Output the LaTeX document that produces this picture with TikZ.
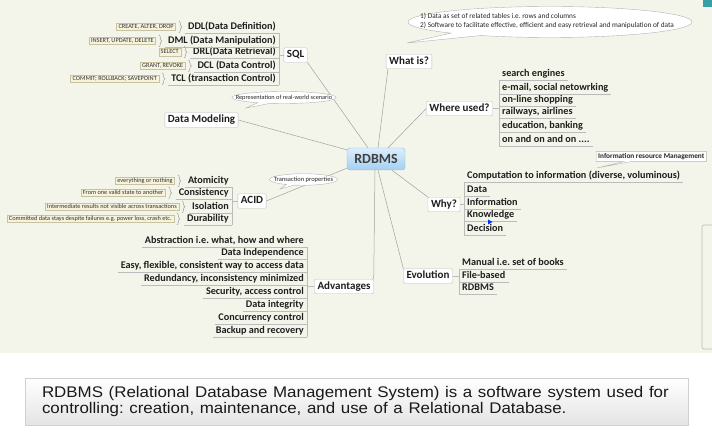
\documentclass[tikz,border=0pt]{standalone}
\usepackage{fontspec}
\usepackage{graphicx}
\setmainfont{Carlito}
\newfontfamily\capfont{Liberation Sans}
\usetikzlibrary{shapes.callouts,shapes.geometric,decorations.pathreplacing,calc}
\frenchspacing
\definecolor{mapbg}{HTML}{F4F5EA}
\definecolor{notefill}{HTML}{F6F2DC}
\definecolor{notedraw}{HTML}{C9C2A0}
\definecolor{linegray}{HTML}{A0A0A0}
\definecolor{ulgray}{HTML}{BBBBBB}
\definecolor{boxdraw}{HTML}{BDBDBD}
\definecolor{rdtop}{HTML}{DCEEFC}
\definecolor{rdbot}{HTML}{A4CFF2}
\definecolor{rddraw}{HTML}{8DB9DF}
\definecolor{txt}{HTML}{1E1E1E}
\definecolor{tealbar}{HTML}{3A9EA6}
\definecolor{capdraw}{HTML}{D0D0D0}
\definecolor{capbot}{HTML}{E4E4E4}
\newcommand\fTopic{\fontsize{11}{13}\selectfont\bfseries}
\newcommand\fItem{\fontsize{10.2}{12}\selectfont\bfseries}
\newcommand\fNote{\fontsize{6.3}{7}\selectfont}
\newcommand\fCall{\fontsize{7.3}{9}\selectfont}
\newcommand\capline[1]{\scalebox{1.098}[1]{#1}}
\tikzset{
  conn/.style={draw=linegray, line width=0.5pt},
  ul/.style={draw=ulgray, line width=0.7pt},
  topic/.style={draw=boxdraw, fill=white, rounded corners=1pt, inner xsep=3pt, inner ysep=2pt,
    text height=8pt, text depth=2.5pt, font=\fTopic, text=txt},
  itemL/.style={inner xsep=3pt, inner ysep=1.5pt, anchor=south east, font=\fItem,
    text height=7pt, text depth=2pt, text=txt},
  itemR/.style={itemL, anchor=south west},
  note/.style={fill=notefill, draw=notedraw, inner xsep=2pt, inner ysep=1pt, font=\fNote,
    anchor=east, text height=4.5pt, text depth=1.2pt, text=black!80},
  brc/.style={draw=gray!75, line width=0.5pt, decorate, decoration={brace, amplitude=3pt}},
  callbox/.style={draw=gray!60, fill=white, inner sep=0pt},
  calltext/.style={inner sep=0pt, text=black!85},
  capbox/.style={rectangle, draw=capdraw, top color=white, bottom color=capbot,
    minimum width=663pt, minimum height=47pt, text width=629pt, align=left, inner xsep=17pt,
    font=\capfont\fontsize{15.4}{15.5}\selectfont, text=black!90}
}
\begin{document}
\begin{tikzpicture}[x=1pt,y=-1pt]
\useasboundingbox (0,0) rectangle (712,435);
\fill[white] (0,0) rectangle (712,435);
\fill[mapbg] (0,0) rectangle (712,353);
\fill[tealbar] (703,0) rectangle (712,7);

% central topic
\node[draw=rddraw, top color=rdtop, bottom color=rdbot, rounded corners=3pt,
  minimum width=58pt, minimum height=22pt, inner sep=0pt,
  font=\fontsize{14}{16}\selectfont\bfseries, text=black!75] (rdbms) at (376,159) {RDBMS};

% main topics
\node[topic] (sql) at (295.5,55) {SQL};
\node[topic] (dm) at (201.5,120) {Data Modeling};
\node[topic] (whatis) at (409,61.5) {What is?};
\node[topic] (where) at (459.5,108.5) {Where used?};
\node[topic] (acid) at (252,201) {ACID};
\node[topic] (adv) at (344,286.5) {Advantages};
\node[topic] (why) at (444,204.5) {Why?};
\node[topic] (evo) at (428,276) {Evolution};

% connectors to the centre
\draw[conn] (sql.south east) -- ([xshift=-8pt]rdbms.north);
\draw[conn] (dm.east) -- ([yshift=-2pt]rdbms.north west);
\draw[conn] ([xshift=2pt]whatis.south west) -- ([xshift=2pt]rdbms.north);
\draw[conn] (where.west) -- ([xshift=12pt]rdbms.north);
\draw[conn] (acid.east) -- ([yshift=2pt]rdbms.south west);
\draw[conn] ([xshift=16pt]rdbms.south) -- (why.north west);
\draw[conn] ([xshift=2pt]rdbms.south) -- (evo.north west);
\draw[conn] ([xshift=-1pt]rdbms.south) -- (adv.north east);

% SQL branch
\node[itemL] (ddl) at (279,33) {DDL(Data Definition)};
\node[itemL] (dml) at (279,47) {DML (Data Manipulation)};
\node[itemL] (drl) at (279,58.5) {DRL(Data Retrieval)};
\node[itemL] (dcl) at (279,72) {DCL (Data Control)};
\node[itemL] (tcl) at (279,85) {TCL (transaction Control)};
\foreach \n in {ddl,dml,drl,dcl,tcl} \draw[ul] (\n.south west) -- (\n.south east);
\draw[ul] (ddl.south east) -- (tcl.south east);
\draw[ul] (sql.west) -- (sql.west -| ddl.south east);
\node[note] (nddl) at ([xshift=-9pt]ddl.west) {CREATE, ALTER, DROP};
\node[note] (ndml) at ([xshift=-9pt]dml.west) {INSERT, UPDATE, DELETE};
\node[note] (ndrl) at ([xshift=-9pt]drl.west) {SELECT};
\node[note] (ndcl) at ([xshift=-9pt]dcl.west) {GRANT, REVOKE};
\node[note] (ntcl) at ([xshift=-9pt]tcl.west) {COMMIT; ROLLBACK; SAVEPOINT};
\foreach \n in {nddl,ndml,ndrl,ndcl,ntcl}
  \draw[brc] ([xshift=3pt,yshift=6pt]\n.east) -- ([xshift=3pt,yshift=-6pt]\n.east);

% Data modeling callout
\coordinate (prep) at (246,108);
\node[callbox, ellipse callout, callout absolute pointer=(prep),
  minimum width=104pt, minimum height=12pt] (repc) at (284,97.5) {};
\node[calltext, font=\fontsize{6.3}{7}\selectfont] (rept) at (repc.center) {Representation of real-world scenario};

% ACID branch
\node[itemL] (atom) at (232,187) {Atomicity};
\node[itemL] (cons) at (232,199) {Consistency};
\node[itemL] (iso) at (232,213) {Isolation};
\node[itemL] (dur) at (232,225) {Durability};
\foreach \n in {atom,cons,iso,dur} \draw[ul] (\n.south west) -- (\n.south east);
\draw[ul] (atom.south east) -- (dur.south east);
\draw[ul] (acid.west) -- (acid.west -| atom.south east);
\node[note] (natom) at ([xshift=-10pt]atom.west) {everything or nothing};
\node[note] (ncons) at ([xshift=-10pt]cons.west) {From one valid state to another};
\node[note] (niso) at ([xshift=-10pt]iso.west) {Intermediate results not visible across transactions};
\node[note] (ndur) at ([xshift=-10pt]dur.west) {Committed data stays despite failures e.g. power loss, crash etc.};
\foreach \n in {natom,ncons,niso,ndur}
  \draw[brc] ([xshift=3pt,yshift=6pt]\n.east) -- ([xshift=3pt,yshift=-6pt]\n.east);

\coordinate (ptr) at (280,189);
\node[callbox, ellipse callout, callout absolute pointer=(ptr),
  minimum width=68pt, minimum height=11.5pt] (trc) at (303.5,179.5) {};
\node[calltext, font=\fontsize{6.5}{7}\selectfont] (trt) at (trc.center) {Transaction properties};

% Advantages branch
\node[itemL] (a1) at (307,247) {Abstraction i.e. what, how and where};
\node[itemL] (a2) at (307,259) {Data Independence};
\node[itemL] (a3) at (307,272) {Easy, flexible, consistent way to access data};
\node[itemL] (a4) at (307,285) {Redundancy, inconsistency minimized};
\node[itemL] (a5) at (307,298) {Security, access control};
\node[itemL] (a6) at (307,311) {Data integrity};
\node[itemL] (a7) at (307,324) {Concurrency control};
\node[itemL] (a8) at (307,337) {Backup and recovery};
\foreach \n in {a1,a2,a3,a4,a5,a6,a7,a8} \draw[ul] (\n.south west) -- (\n.south east);
\draw[ul] (a1.south east) -- (a8.south east);
\draw[ul] (adv.west) -- (adv.west -| a1.south east);

% What is? callout
\coordinate (pwhat) at (407,43);
\node[callbox, ellipse callout, callout absolute pointer=(pwhat),
  minimum width=284pt, minimum height=31pt] (whc) at (550,22) {};
\node[calltext, font=\fCall, align=left, anchor=west] (wht) at (420,20.5)
  {1) Data as set of related tables i.e. rows and columns\\2) Software to facilitate effective, efficient and easy retrieval and manipulation of data};

% Where used branch
\node[itemR] (w1) at (499,80) {search engines};
\node[itemR] (w2) at (499,94) {e-mail, social netowrking};
\node[itemR] (w3) at (499,106) {on-line shopping};
\node[itemR] (w4) at (499,118) {railways, airlines};
\node[itemR] (w5) at (499,132) {education, banking};
\node[itemR] (w6) at (499,146) {on and on and on ....};
\foreach \n in {w1,w2,w3,w4,w5,w6} \draw[ul] (\n.south west) -- (\n.south east);
\draw[ul] (w1.south west) -- (w6.south west);
\draw[ul] (where.east) -- (where.east -| w1.south west);

% Information resource management
\coordinate (pirm) at (597,168);
\node[rectangle callout, draw=gray!60, fill=white, callout absolute pointer=(pirm),
  anchor=west, inner xsep=2pt, inner ysep=2pt, font=\fontsize{7.3}{8}\selectfont\bfseries,
  text=black!85] (irm) at (596,156.5) {Information resource Management};

% Why branch
\node[itemR] (y1) at (464,182) {Computation to information (diverse, voluminous)};
\node[itemR] (y2) at (464,196) {Data};
\node[itemR] (y3) at (464,209) {Information};
\node[itemR] (y4) at (464,221) {Knowledge};
\node[itemR] (y5) at (464,235) {Decision};
\foreach \n in {y1,y2,y3,y4,y5} \draw[ul] (\n.south west) -- (\n.south east);
\draw[ul] (y1.south west) -- (y5.south west);
\draw[ul] (why.east) -- (why.east -| y1.south west);
\fill[blue!80!cyan] (488,219.5) -- (492.5,222) -- (488,224.5) -- cycle;

% Evolution branch
\node[itemR] (e1) at (459,269) {Manual i.e. set of books};
\node[itemR] (e2) at (459,282) {File-based};
\node[itemR] (e3) at (459,294) {RDBMS};
\foreach \n in {e1,e2,e3} \draw[ul] (\n.south west) -- (\n.south east);
\draw[ul] (e1.south west) -- (e3.south west);
\draw[ul] (evo.east) -- (evo.east -| e1.south west);

% partial box at right edge
\draw[ulgray, line width=0.7pt, rounded corners=2pt] (712,225) -- (702,225) -- (702,349) -- (712,349);

% caption
\node[capbox] (cap) at (356.5,401.5)
  {\capline{RDBMS (Relational Database Management System) is a software system used for}\\\capline{controlling: creation, maintenance, and use of a Relational Database.}};
\end{tikzpicture}
\end{document}
